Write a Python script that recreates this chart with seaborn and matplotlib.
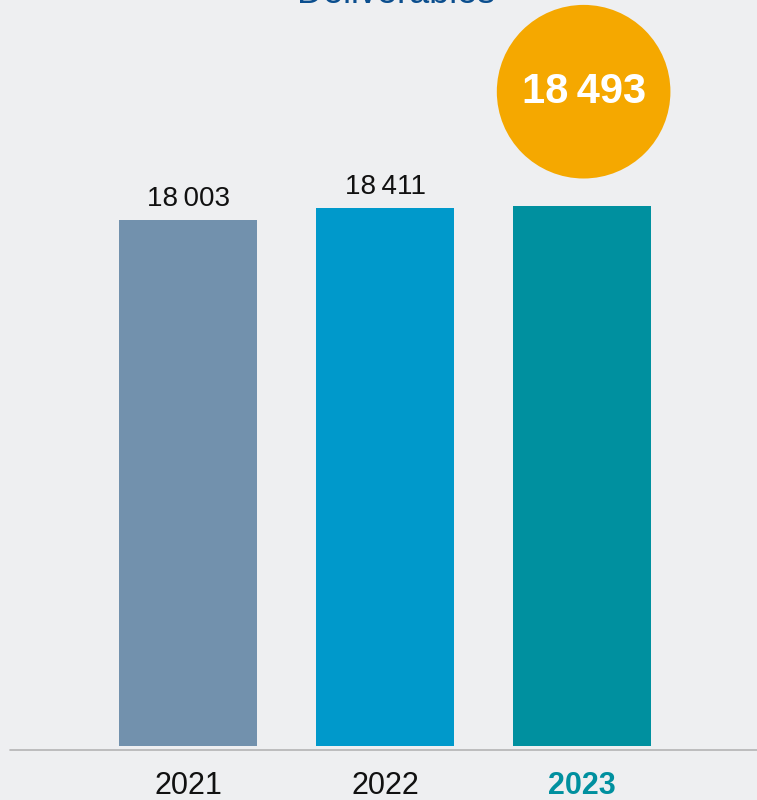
import matplotlib.pyplot as plt
import seaborn as sns
from matplotlib.patches import Circle
from matplotlib.offsetbox import DrawingArea, AnnotationBbox

years = ["2021", "2022", "2023"]
deliverables = [18003, 18411, 18493]
value_labels = ["18\u2009003", "18\u2009411", "18\u2009493"]
bar_colors = ["#7291AD", "#0099CB", "#00909F"]
title = "Deliverables"

BG = "#EEEFF1"
FONT = ["Liberation Sans", "DejaVu Sans"]

sns.set_theme(style="white")
plt.rcParams["font.family"] = FONT

fig = plt.figure(figsize=(7.57, 8.0), dpi=100, facecolor=BG)
# axes spans from bar base (y=746px) to top of figure
ax = fig.add_axes([0.0, 54 / 800, 1.0, 746 / 800])
ax.set_facecolor(BG)

sns.barplot(x=years, y=deliverables, hue=years, palette=bar_colors,
            width=0.70, legend=False, ax=ax, saturation=1, linewidth=0)

ax.set_xlim(-0.955, 2.887)
ax.set_ylim(0, 746 * 34.22)
ax.axis("off")

# value labels over first two bars
for i in range(2):
    ax.annotate(value_labels[i], xy=(i, deliverables[i]), xytext=(0, 6),
                textcoords="offset points", ha="center", va="bottom",
                fontsize=20, color="#111111")

# highlighted value in an orange circle
radius = 62.5
da = DrawingArea(2 * radius, 2 * radius, 0, 0)
da.add_artist(Circle((radius, radius), radius, color="#F5A800", lw=0))
ab = AnnotationBbox(da, (2, deliverables[2]), xybox=(1, 82),
                    boxcoords="offset points", frameon=False, pad=0)
ax.add_artist(ab)
ax.annotate(value_labels[2], xy=(2, deliverables[2]), xytext=(1, 82),
            textcoords="offset points", ha="center", va="center",
            fontsize=30, fontweight="bold", color="white")

# baseline
fig.add_artist(plt.Line2D([10 / 757, 1.0], [50 / 800, 50 / 800],
                          color="#B4B4B4", lw=1.2))

# year labels
for i, yr in enumerate(years):
    last = i == len(years) - 1
    ax.annotate(yr, xy=(i, 0), xytext=(0, -18), textcoords="offset points",
                ha="center", va="top", fontsize=22,
                fontweight="bold" if last else "normal",
                color="#00909F" if last else "#111111")

fig.text(396 / 757, 1 - 3 / 800, title, ha="center", va="baseline",
         fontsize=26, color="#0B4E8E")

fig.savefig("out.png", dpi=100, facecolor=BG)
